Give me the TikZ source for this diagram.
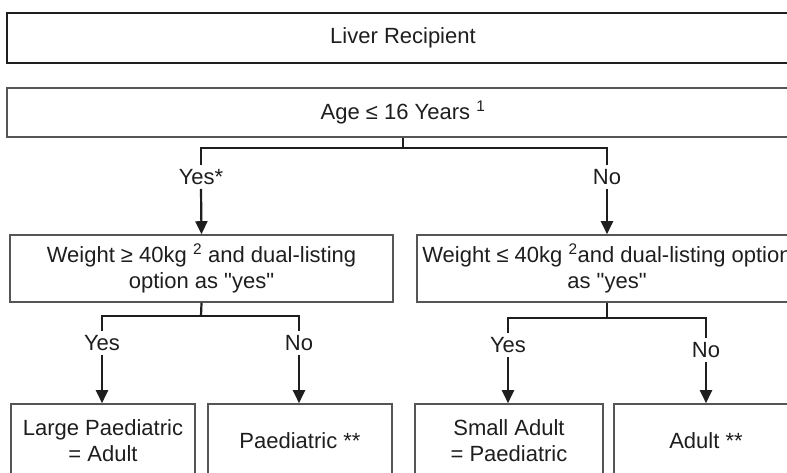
\documentclass[tikz,border=0pt]{standalone}
\usepackage{fontspec}
\setmainfont{Liberation Sans}
\usetikzlibrary{arrows.meta}
\definecolor{boxgrey}{HTML}{555555}
\definecolor{inkdark}{HTML}{1E1E1E}
\tikzset{
	box/.style={draw=boxgrey, line width=1.6pt, inner sep=0pt, align=center, text=inkdark, font=\fontsize{22}{26}\selectfont},
	topbox/.style={box, draw=inkdark, line width=2.6pt},
	lbl/.style={inner sep=4pt, text=inkdark, font=\fontsize{22}{26}\selectfont},
	wire/.style={draw=inkdark, line width=2.2pt},
	arr/.style={wire, -{Triangle[width=12pt,length=13pt]}}
}

\begin{document}
\begin{tikzpicture}[x=1pt,y=-1pt]
	\useasboundingbox (0,0) rectangle (787,472);
	\clip (0,0) rectangle (787,472);

	\node[topbox, minimum width=792pt, minimum height=50pt] (recip) at (403,38) {Liver Recipient};
	\node[box, minimum width=792pt, minimum height=49pt] (age) at (403,112.5) {Age ≤ 16 Years \textsuperscript{1}};

	\node[lbl] (yesA) at (201,177) {Yes*};
	\node[lbl] (noA) at (607,177) {No};
	\node[box, minimum width=383pt, minimum height=67pt] (wA) at (201.5,268.5) {Weight ≥ 40kg \textsuperscript{2} and dual-listing\\option as \textquotedbl yes\textquotedbl};
	\node[box, minimum width=380pt, minimum height=67pt] (wB) at (607,268.5) {Weight ≤ 40kg \textsuperscript{2}and dual-listing option\\as \textquotedbl yes\textquotedbl};

	\node[lbl] (yesB) at (102,343) {Yes};
	\node[lbl] (noB) at (299,343) {No};
	\node[lbl] (yesC) at (508,345) {Yes};
	\node[lbl] (noC) at (706,350) {No};

	\node[box, minimum width=184pt, minimum height=74pt] (large) at (103,441) {Large Paediatric\\= Adult};
	\node[box, minimum width=184pt, minimum height=74pt] (paed) at (300,441) {Paediatric **};
	\node[box, minimum width=188pt, minimum height=74pt] (small) at (509,441) {Small Adult\\= Paediatric};
	\node[box, minimum width=184pt, minimum height=74pt] (adult) at (706,441) {Adult **};

	\coordinate (j1) at (403,148);
	\coordinate (j2) at (201,316);
	\coordinate (j3) at (607,318);

	\draw[wire] (age.south) -- (j1);
	\draw[wire] (yesA.north) |- (j1) -| (noA.north);
	\draw[arr] (yesA.south) -- (wA.north);
	\draw[arr] (noA.south) -- (wB.north);

	\draw[wire] (wA.south) -- (j2);
	\draw[wire] (yesB.north) |- (j2) -| (noB.north);
	\draw[wire] (wB.south) -- (j3);
	\draw[wire] (yesC.north) |- (j3) -| (noC.north);

	\draw[arr] (yesB.south) -- (yesB.south |- large.north);
	\draw[arr] (noB.south) -- (noB.south |- paed.north);
	\draw[arr] (yesC.south) -- (yesC.south |- small.north);
	\draw[arr] (noC.south) -- (noC.south |- adult.north);
\end{tikzpicture}
\end{document}
